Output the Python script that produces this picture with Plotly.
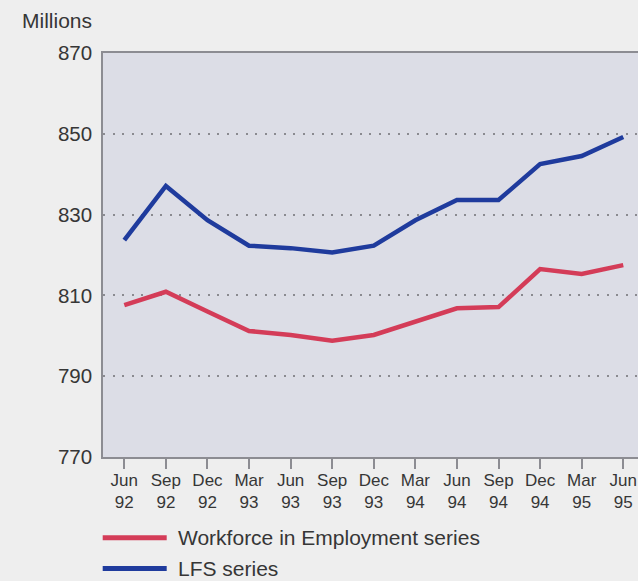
import plotly.graph_objects as go

# Quarterly periods and the two employment series (millions)
quarters = ["Jun", "Sep", "Dec", "Mar", "Jun", "Sep", "Dec", "Mar", "Jun", "Sep", "Dec", "Mar", "Jun"]
years = ["92", "92", "92", "93", "93", "93", "93", "94", "94", "94", "94", "95", "95"]
workforce = [807.6, 810.9, 806.0, 801.2, 800.2, 798.8, 800.2, 803.5, 806.8, 807.1, 816.5, 815.3, 817.5]
lfs = [823.7, 837.1, 828.6, 822.3, 821.7, 820.6, 822.3, 828.6, 833.6, 833.6, 842.5, 844.5, 849.2]
y_ticks = [770, 790, 810, 830, 850, 870]
series_names = ["Workforce in Employment series", "LFS series"]

RED = "#d43c58"
BLUE = "#1f3b9d"
TEXT = "#363636"
AXIS = "#8c8c92"
FONT = "Liberation Sans, Arial, sans-serif"

W, H = 638, 581
L, R, T, B = 103, 0, 53, 124
plot_w = W - L - R
plot_h = H - T - B

x = list(range(len(quarters)))
x_range = [(L - 124.3) / 41.58, (W - 124.3) / 41.58]
ticktext = [f"{q}<br>{yr}" for q, yr in zip(quarters, years)]

fig = go.Figure()
fig.add_trace(go.Scatter(x=x, y=workforce, mode="lines", name=series_names[0],
                         line=dict(color=RED, width=4.5), showlegend=False))
fig.add_trace(go.Scatter(x=x, y=lfs, mode="lines", name=series_names[1],
                         line=dict(color=BLUE, width=4.5), showlegend=False))


def px_x(px):
    return (px - L) / plot_w


def px_y(py):
    return (H - B - py) / plot_h


annotations = []
shapes = []

# hand-drawn legend below the axis
legend_rows = [(series_names[0], RED, 537.7), (series_names[1], BLUE, 568.5)]
for name, color, py in legend_rows:
    shapes.append(dict(type="line", xref="paper", yref="paper",
                       x0=px_x(102.7), x1=px_x(166.7), y0=px_y(py), y1=px_y(py),
                       line=dict(color=color, width=5)))
    annotations.append(dict(text=name, xref="paper", yref="paper",
                            x=px_x(176), y=px_y(py - 0.5), xanchor="left", yanchor="middle",
                            showarrow=False, font=dict(size=21, color=TEXT, family=FONT)))

annotations.append(dict(text="Millions", xref="paper", yref="paper",
                        x=px_x(20), y=px_y(21), xanchor="left", yanchor="middle",
                        showarrow=False, font=dict(size=21, color=TEXT, family=FONT)))

fig.update_layout(
    width=W, height=H,
    margin=dict(l=L, r=R, t=T, b=B, pad=0),
    paper_bgcolor="#eeeeee",
    plot_bgcolor="#dcdde6",
    font=dict(family=FONT, color=TEXT),
    showlegend=False,
    shapes=shapes,
    annotations=annotations,
    xaxis=dict(
        range=x_range,
        tickmode="array", tickvals=x, ticktext=ticktext,
        ticks="outside", ticklen=10, tickwidth=1.5, tickcolor=AXIS,
        showline=True, linecolor=AXIS, linewidth=1.5, mirror=True,
        showgrid=False, zeroline=False,
        ticklabelstandoff=-3,
        tickfont=dict(size=17, color=TEXT, family=FONT),
        fixedrange=True,
    ),
    yaxis=dict(
        range=[770, 870],
        tickmode="array", tickvals=y_ticks,
        ticks="", showline=True, linecolor=AXIS, linewidth=1.5,
        showgrid=True, gridcolor="#8a8a90", gridwidth=2, griddash="2px,7.5px",
        zeroline=False,
        ticklabelstandoff=5,
        tickfont=dict(size=20.5, color=TEXT, family=FONT),
        fixedrange=True,
    ),
)

fig.write_html("out.html", config={"displayModeBar": False})
